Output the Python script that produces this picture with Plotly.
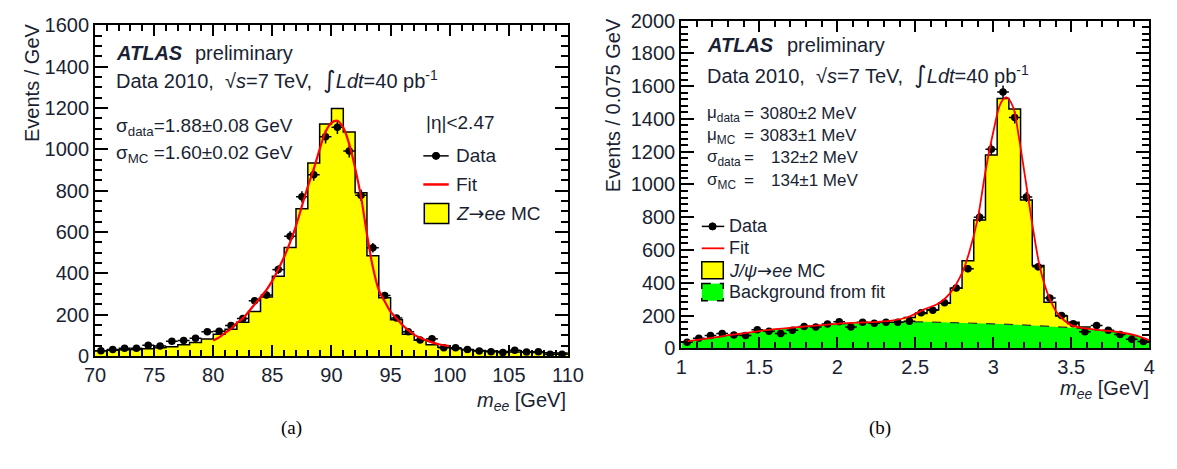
import numpy as np
import plotly.graph_objects as go

W, H = 1177, 469
FONT = "Liberation Sans"
TXT = "#1a1f33"

# ---------------- Z -> ee panel (1 GeV bins, 70-110 GeV) ----------------
z_edges = list(range(70, 111))
z_mc = [25, 28, 30, 32, 35, 40, 45, 55, 65, 82,
        105, 129, 163, 216, 286, 386, 525, 712, 934, 1123,
        1197, 1084, 790, 485, 282, 175, 105, 76, 55, 43,
        35, 30, 27, 24, 22, 20, 19, 17, 16, 15]
z_data = [25, 32, 37, 37, 52, 48, 71, 75, 86, 117,
          120, 148, 182, 268, 295, 418, 580, 770, 877, 1061,
          1107, 992, 778, 524, 293, 184, 117, 78, 83, 40,
          40, 32, 24, 21, 17, 28, 20, 21, 9, 9]
z_fit_m = [80.0, 80.5, 81.0, 81.5, 82.0, 82.5, 83.0, 83.5, 84.0, 84.5,
           85.0, 85.5, 86.0, 86.5, 87.0, 87.5, 88.0, 88.5, 89.0, 89.5,
           90.0, 90.5, 91.0, 91.5, 92.0, 92.5, 93.0, 93.5, 94.0, 94.5,
           95.0, 95.5, 96.0, 96.5, 97.0, 97.5, 98.0, 98.5, 99.0, 99.5, 100.0]
z_fit_n = [75, 90, 112, 132, 160, 182, 215, 250, 285, 320,
           365, 420, 480, 550, 630, 725, 820, 905, 1000, 1085,
           1128, 1138, 1105, 1025, 910, 770, 590, 430, 320, 265,
           215, 182, 150, 125, 102, 88, 76, 66, 58, 52, 48]

# ---------------- J/psi -> ee panel (0.075 GeV bins, 1-4 GeV) ----------------
jpsi_edges = [round(1 + 0.075 * k, 4) for k in range(41)]
jpsi_data = [37, 62, 78, 91, 81, 78, 114, 105, 91, 110,
             134, 130, 149, 163, 130, 159, 153, 159, 159, 166,
             217, 233, 279, 368, 486, 800, 1215, 1564, 1409, 924,
             498, 308, 200, 151, 101, 140, 110, 85, 56, 42]
jpsi_mc_edges = jpsi_edges[19:36]
jpsi_mc = [188, 213, 236, 275, 367, 535, 783, 1180, 1525, 1461,
           905, 505, 282, 198, 159, 130]
bkg_m = [1.0, 1.25, 1.5, 1.75, 2.0, 2.25, 2.5, 2.75, 3.0, 3.25, 3.5, 3.6, 3.7, 3.8, 3.9, 4.0]
bkg_n = [38, 72, 106, 130, 148, 158, 162, 157, 150, 140, 126, 118, 108, 98, 80, 50]
jfit_m = [1.0, 1.25, 1.5, 1.75, 2.0, 2.25, 2.35, 2.45, 2.55, 2.65,
          2.72, 2.8, 2.85, 2.9, 2.95, 3.0, 3.05, 3.085, 3.125, 3.165,
          3.205, 3.25, 3.3, 3.35, 3.4, 3.45, 3.5, 3.6, 3.7, 3.8, 3.9, 4.0]
jfit_n = [38, 72, 106, 130, 150, 162, 170, 190, 235, 275,
          333, 460, 600, 790, 1080, 1320, 1500, 1531, 1477, 1283,
          1040, 760, 490, 330, 230, 175, 142, 120, 110, 100, 82, 50]


def centers(edges):
    e = np.asarray(edges, dtype=float)
    return 0.5 * (e[:-1] + e[1:])


def px(x):
    return x / W


def py(y):
    return 1 - y / H


fig = go.Figure()

# ---- left panel traces ----
fig.add_trace(go.Scatter(
    x=z_edges, y=z_mc + [z_mc[-1]], mode="lines", line_shape="hv",
    line=dict(color="black", width=1.5), fill="tozeroy", fillcolor="#ffff00",
    xaxis="x", yaxis="y", showlegend=False, hoverinfo="skip"))
zc = centers(z_edges)
fig.add_trace(go.Scatter(
    x=zc, y=z_data, mode="markers",
    marker=dict(color="black", size=7.5, symbol="circle"),
    error_x=dict(type="constant", value=0.5, width=0, thickness=1.5, color="black"),
    error_y=dict(type="data", array=np.sqrt(z_data), width=0, thickness=1.5, color="black"),
    xaxis="x", yaxis="y", showlegend=False))
fig.add_trace(go.Scatter(
    x=z_fit_m, y=z_fit_n, mode="lines", line_shape="spline",
    line=dict(color="#ff0000", width=2.2), xaxis="x", yaxis="y", showlegend=False))

# ---- right panel traces ----
fig.add_trace(go.Scatter(
    x=jpsi_mc_edges, y=jpsi_mc + [jpsi_mc[-1]], mode="lines", line_shape="hv",
    line=dict(color="black", width=1.5), fill="tozeroy", fillcolor="#ffff00",
    xaxis="x2", yaxis="y2", showlegend=False, hoverinfo="skip"))
fig.add_trace(go.Scatter(
    x=bkg_m, y=bkg_n, mode="lines", line_shape="spline",
    line=dict(color="#333333", width=1.2, dash="dash"), fill="tozeroy", fillcolor="#00ff00",
    xaxis="x2", yaxis="y2", showlegend=False))
jc = centers(jpsi_edges)
fig.add_trace(go.Scatter(
    x=jc, y=jpsi_data, mode="markers",
    marker=dict(color="black", size=7.5, symbol="circle"),
    error_x=dict(type="constant", value=0.0375, width=0, thickness=1.5, color="black"),
    error_y=dict(type="data", array=np.sqrt(jpsi_data), width=0, thickness=1.5, color="black"),
    xaxis="x2", yaxis="y2", showlegend=False))
fig.add_trace(go.Scatter(
    x=jfit_m, y=jfit_n, mode="lines", line_shape="spline",
    line=dict(color="#ff0000", width=1.8), xaxis="x2", yaxis="y2", showlegend=False))


def axis(domain, rng, dtick, minor, anchor, ticklen, minorlen):
    return dict(
        domain=domain, range=rng, dtick=dtick, tick0=rng[0], anchor=anchor,
        ticks="inside", ticklen=ticklen, tickwidth=1.5, tickcolor="black",
        minor=dict(dtick=minor, ticks="inside", ticklen=minorlen, tickwidth=1.5,
                   tickcolor="black", showgrid=False),
        showline=True, linewidth=2, linecolor="black", mirror="ticks",
        showgrid=False, zeroline=False,
        tickfont=dict(family=FONT, size=20, color=TXT), fixedrange=True)


annotations = []
shapes = []


def txt(x, y, s, size, xanchor="left", yanchor="middle", family=FONT, angle=0, color=TXT):
    annotations.append(dict(
        x=px(x), y=py(y), xref="paper", yref="paper", text=s, showarrow=False,
        xanchor=xanchor, yanchor=yanchor, textangle=angle,
        font=dict(family=family, size=size, color=color)))


def line(x0, y0, x1, y1, color="black", width=1.5, dash="solid"):
    shapes.append(dict(type="line", xref="paper", yref="paper",
                       x0=px(x0), y0=py(y0), x1=px(x1), y1=py(y1),
                       line=dict(color=color, width=width, dash=dash)))


def rect(x0, y0, x1, y1, fill, dash="solid"):
    shapes.append(dict(type="rect", xref="paper", yref="paper",
                       x0=px(x0), y0=py(y0), x1=px(x1), y1=py(y1),
                       fillcolor=fill, line=dict(color="black", width=1.5, dash=dash)))


def dot(x, y, r=3.7):
    shapes.append(dict(type="circle", xref="paper", yref="paper",
                       x0=px(x - r), y0=py(y + r), x1=px(x + r), y1=py(y - r),
                       fillcolor="black", line=dict(color="black", width=1)))


ARROW = "<span style='font-family:DejaVu Sans'>→</span>"
INTEG = "<span style='font-family:DejaVu Sans;font-size:24px'>∫</span>"
LUMI = "Data 2010,  √<i>s</i>=7 TeV,  " + INTEG + "<i>Ldt</i>=40 pb<sup>-1</sup>"

# ---- left panel labels ----
txt(22, 75, "Events / GeV", 20, xanchor="center", angle=-90)
txt(570, 410, "<i>m</i><sub><i>ee</i></sub> [GeV]", 20, xanchor="right")
txt(105, 44, "<b><i>ATLAS</i></b>", 20)
txt(186, 44, "preliminary", 20)
txt(105, 72, LUMI, 20)
txt(105, 122, "σ<sub>data</sub>=1.88±0.08 GeV", 19)
txt(105, 150, "σ<sub>MC</sub> =1.60±0.02 GeV", 19)
txt(423, 117, "|η|<2.47", 19)
line(422, 152, 448, 152)
dot(435, 152)
txt(453, 152, "Data", 19)
line(422, 182, 448, 182, color="#ff0000", width=2.5)
txt(453, 182, "Fit", 19)
rect(423, 202, 448, 223, "#ffff00")
txt(453, 212, "<i>Z</i>" + ARROW + "<i>ee</i> MC", 19)
txt(287, 438, "(a)", 19, xanchor="center", family="Liberation Serif", color="black")

# ---- right panel labels ----
txt(617, 99, "Events / 0.075 GeV", 20, xanchor="center", angle=-90)
txt(1167, 397, "<i>m</i><sub><i>ee</i></sub> [GeV]", 20, xanchor="right")
txt(710, 36, "<b><i>ATLAS</i></b>", 20)
txt(792, 36, "preliminary", 20)
txt(710, 67, LUMI, 20)
param_rows = [("μ<sub>data</sub>", "3080±2 MeV", 108),
              ("μ<sub>MC</sub>", "3083±1 MeV", 131),
              ("σ<sub>data</sub>", "132±2 MeV", 154),
              ("σ<sub>MC</sub>", "134±1 MeV", 178)]
for lab, val, yy in param_rows:
    txt(710, yy, lab, 17)
    txt(748, yy, "=", 17)
    txt(765 if val.startswith("3") else 776, yy, val, 17)
line(707, 226, 730, 226)
dot(718, 226)
txt(733, 226, "Data", 18)
line(707, 249, 730, 249, color="#ff0000", width=1.8)
txt(733, 249, "Fit", 18)
rect(707, 263, 729, 281, "#ffff00")
txt(733, 272, "<i>J/ψ</i>" + ARROW + "<i>ee</i> MC", 18)
rect(707, 286, 729, 304, "#00ff00", dash="dash")
txt(733, 295, "Background from fit", 18)
txt(889, 438, "(b)", 19, xanchor="center", family="Liberation Serif", color="black")

fig.update_layout(
    width=W, height=H, margin=dict(l=0, r=0, t=0, b=0),
    paper_bgcolor="white", plot_bgcolor="white", showlegend=False,
    xaxis=axis([86 / W, 570 / W], [70, 110], 5, 1, "y", 11, 6),
    yaxis=axis([1 - 362 / H, 1 - 15 / H], [0, 1600], 200, 50, "x", 13, 7),
    xaxis2=axis([686 / W, 1165 / W], [1, 4], 0.5, 0.1, "y2", 11, 6),
    yaxis2=axis([1 - 354 / H, 1 - 10 / H], [0, 2000], 200, 40, "x2", 13, 7),
    annotations=annotations, shapes=shapes)

fig.write_html("out.html")
